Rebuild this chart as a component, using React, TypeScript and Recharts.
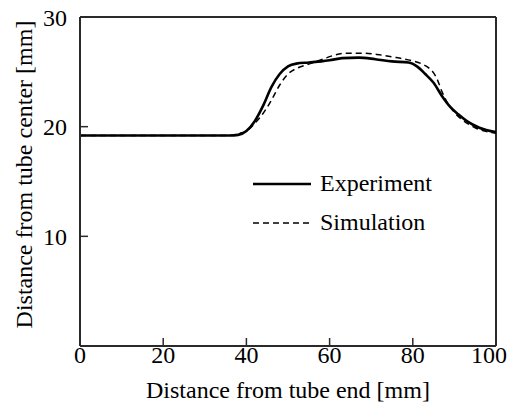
import React from 'react';
import { LineChart, Line, XAxis, YAxis, ReferenceLine, Legend } from 'recharts';

const xTicks = [0, 20, 40, 60, 80, 100];
const yTicks = [10, 20, 30];

const expX = [0, 36, 38, 40, 42, 44, 46, 48, 50, 52, 55, 58, 60, 63, 67, 71, 75, 79, 81, 83, 85, 87, 89, 91, 93, 96, 100];
const expY = [19.2, 19.2, 19.25, 19.6, 20.5, 21.9, 23.6, 24.8, 25.5, 25.75, 25.85, 25.95, 26.05, 26.25, 26.3, 26.15, 25.95, 25.85, 25.5, 24.8, 24.0, 22.8, 21.8, 21.1, 20.5, 19.9, 19.5];

const simX = [0, 36, 38, 40, 42, 44, 46, 48, 50, 52, 55, 58, 61, 64, 68, 72, 76, 80, 82, 84, 85, 86, 87, 88, 90, 92, 95, 100];
const simY = [19.2, 19.2, 19.35, 19.6, 20.3, 21.2, 22.4, 23.8, 24.8, 25.3, 25.7, 26.1, 26.5, 26.7, 26.7, 26.55, 26.3, 26.0, 25.75, 25.3, 24.9, 24.2, 23.2, 22.4, 21.3, 20.6, 19.9, 19.4];

const experiment = expX.map((x, i) => ({ x, y: expY[i] }));
const simulation = simX.map((x, i) => ({ x, y: simY[i] }));

const FONT = '"Liberation Serif", "Times New Roman", Times, serif';
const FS = 24;
const AXIS = '#2a2a2a';

const renderLegend = (props: any) => {
  const { payload } = props;
  const order = ['Experiment', 'Simulation'];
  const items = [...payload].sort((a: any, b: any) => order.indexOf(a.value) - order.indexOf(b.value));
  return (
    <div style={{ fontFamily: FONT, fontSize: FS, color: '#000', lineHeight: '39px' }}>
      {items.map((entry: any, i: number) => (
        <div key={i} style={{ display: 'flex', alignItems: 'center', height: 39 }}>
          <svg width={58} height={10} style={{ marginRight: 9 }}>
            <line
              x1={0}
              y1={5}
              x2={58}
              y2={5}
              stroke="#000"
              strokeWidth={entry.payload.strokeWidth}
              strokeDasharray={entry.payload.strokeDasharray}
            />
          </svg>
          <span>{entry.value}</span>
        </div>
      ))}
    </div>
  );
};

const YLabel = (props: any) => {
  const vb = props.viewBox;
  const cx = vb.x + 32;
  const cy = vb.y + vb.height / 2 - 7;
  return (
    <text
      x={cx}
      y={cy}
      transform={`rotate(-90, ${cx}, ${cy})`}
      textAnchor="middle"
      fontFamily={FONT}
      fontSize={FS}
      fill="#000"
    >
      Distance from tube center [mm]
    </text>
  );
};

export default function App() {
  return (
    <div style={{ position: 'absolute', left: 0, top: 0, background: '#fff' }}>
      <LineChart width={507} height={406} margin={{ top: 17, right: 11, bottom: 0, left: 0 }}>
        <XAxis
          type="number"
          dataKey="x"
          domain={[0, 100]}
          ticks={xTicks}
          allowDataOverflow
          height={60}
          tickSize={-8}
          tickMargin={8}
          axisLine={{ stroke: AXIS, strokeWidth: 2 }}
          tickLine={{ stroke: AXIS, strokeWidth: 1.5 }}
          tick={{ fontFamily: FONT, fontSize: FS, fill: '#000' }}
          label={{ value: 'Distance from tube end [mm]', position: 'insideBottom', offset: 8, fontFamily: FONT, fontSize: FS, fill: '#000' }}
        />
        <YAxis
          type="number"
          dataKey="y"
          domain={[0, 30]}
          ticks={yTicks}
          allowDataOverflow
          width={80}
          tickSize={-8}
          tickMargin={21}
          axisLine={{ stroke: AXIS, strokeWidth: 2 }}
          tickLine={{ stroke: AXIS, strokeWidth: 1.5 }}
          tick={{ fontFamily: FONT, fontSize: FS, fill: '#000' }}
          label={{ content: YLabel }}
        />
        <ReferenceLine y={30} stroke={AXIS} strokeWidth={2} />
        <ReferenceLine x={100} stroke={AXIS} strokeWidth={2} />
        <Legend
          layout="horizontal"
          verticalAlign="middle"
          align="center"
          content={renderLegend}
          wrapperStyle={{ position: 'absolute', left: 253, top: 164, width: 220 }}
        />
        <Line
          data={simulation}
          dataKey="y"
          name="Simulation"
          type="monotone"
          stroke="#000"
          strokeWidth={1.5}
          strokeDasharray="6 4"
          dot={false}
          isAnimationActive={false}
          legendType="line"
        />
        <Line
          data={experiment}
          dataKey="y"
          name="Experiment"
          type="monotone"
          stroke="#000"
          strokeWidth={2.6}
          dot={false}
          isAnimationActive={false}
          legendType="line"
        />
      </LineChart>
    </div>
  );
}
